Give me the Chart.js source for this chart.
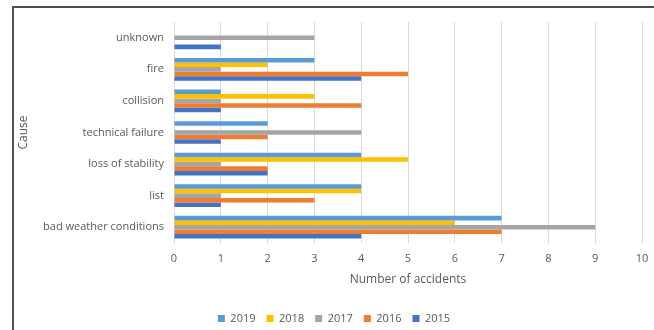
<!DOCTYPE html>
<html>
<head>
<meta charset="utf-8">
<script src="https://cdn.jsdelivr.net/npm/chart.js@4/dist/chart.umd.min.js"></script>
<style>
html,body{margin:0;padding:0;background:#fff;}
#wrap{position:relative;width:654px;height:330px;overflow:hidden;}
#frame{position:absolute;left:12px;top:6px;width:700px;height:400px;border-top:2px solid #505050;border-left:2px solid #505050;pointer-events:none;}
canvas{position:absolute;left:0;top:0;}
</style>
</head>
<body>
<div id="wrap">
<canvas id="c" width="654" height="330"></canvas>
<div id="frame"></div>
</div>
<script>
const categories = ["unknown", "fire", "collision", "technical failure", "loss of stability", "list", "bad weather conditions"];
const years = ["2019", "2018", "2017", "2016", "2015"];
const v2019 = [0, 3, 1, 2, 4, 4, 7];
const v2018 = [0, 2, 3, 0, 5, 4, 6];
const v2017 = [3, 1, 1, 4, 1, 1, 9];
const v2016 = [0, 5, 4, 2, 2, 3, 7];
const v2015 = [1, 4, 1, 1, 2, 1, 4];
const xTicks = [0,1,2,3,4,5,6,7,8,9,10];
const colors = ["#5B9BD5", "#FFC000", "#A5A5A5", "#ED7D31", "#4472C4"];
const seriesValues = [v2019, v2018, v2017, v2016, v2015];

const FONT = "'Open Sans', 'Liberation Sans', sans-serif";
const GREY = "#595959";

new Chart(document.getElementById("c"), {
  type: "bar",
  data: {
    labels: categories,
    datasets: years.map((y, i) => ({
      label: y,
      data: seriesValues[i],
      backgroundColor: colors[i],
      borderWidth: 0,
      barPercentage: 1,
      categoryPercentage: 0.72
    }))
  },
  options: {
    indexAxis: "y",
    responsive: false,
    animation: false,
    layout: { padding: { left: 14, right: 0, top: 22, bottom: -4 } },
    plugins: {
      legend: {
        position: "bottom",
        labels: {
          boxWidth: 7, boxHeight: 7, padding: 11,
          color: GREY,
          font: { family: FONT, size: 11 }
        }
      },
      tooltip: { enabled: false }
    },
    scales: {
      x: {
        min: 0, max: 10,
        afterBuildTicks: (s) => { s.ticks = xTicks.map(v => ({ value: v })); },
        afterFit: (s) => { s.height = 59; s.paddingRight = 12; },
        grid: { color: "#d9d9d9", drawTicks: false },
        border: { display: false },
        ticks: { padding: 9, color: GREY, font: { family: FONT, size: 11 } },
        title: { display: true, text: "Number of accidents", color: GREY,
                 font: { family: FONT, size: 12 }, padding: { top: 4, bottom: 15 } }
      },
      y: {
        afterFit: (s) => { s.width = 160; },
        grid: { display: false, drawTicks: false },
        border: { display: true, color: "#d9d9d9" },
        ticks: { padding: 10, color: GREY, font: { family: FONT, size: 11 } },
        title: { display: true, text: "Cause", color: GREY,
                 font: { family: FONT, size: 12 }, padding: { top: 2, bottom: 0 } }
      }
    }
  }
});
</script>
</body>
</html>
